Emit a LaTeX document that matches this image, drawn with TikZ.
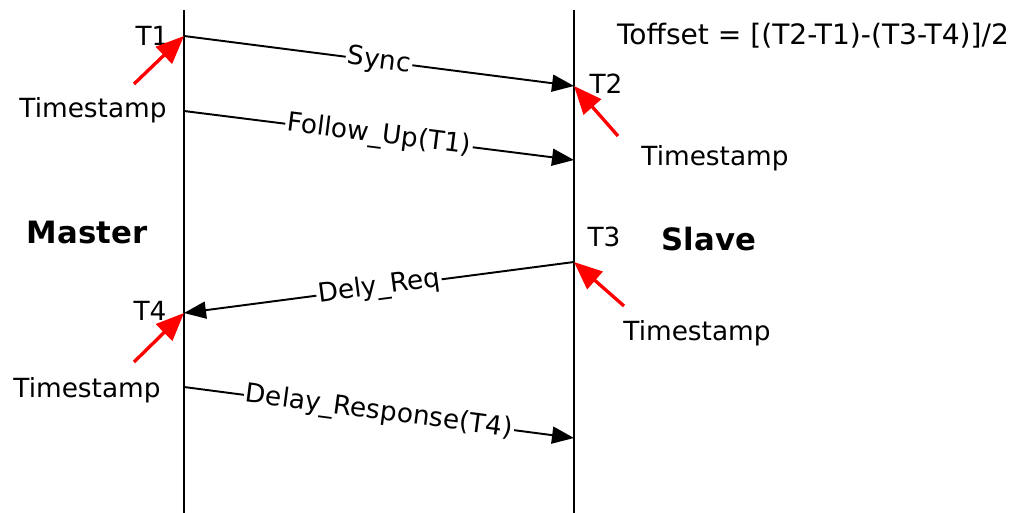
\documentclass[tikz,border=0pt]{standalone}
\usepackage{fontspec}
\setmainfont{DejaVu Sans}
\usetikzlibrary{arrows.meta}

\begin{document}
\begin{tikzpicture}[x=0.02cm, y=-0.02cm,
  every node/.style={font=\fontsize{15}{18}\selectfont},
  lifeline/.style={line width=1.1pt},
  msg/.style={line width=1.1pt, -{Triangle[length=0.44cm, width=0.34cm]}},
  stamp/.style={red, line width=1.9pt, -{Triangle[length=0.56cm, width=0.46cm]}},
  msglabel/.style={midway, sloped, fill=white, inner sep=1pt},
  role/.style={font=\fontsize{17.5}{20}\selectfont\bfseries}]
  \useasboundingbox (0,0) rectangle (1030,513);
  % lifelines
  \coordinate (mtop) at (184,10);
  \coordinate (mbot) at (184,513);
  \coordinate (stop) at (574,10);
  \coordinate (sbot) at (574,513);
  \draw[lifeline] (mtop) -- (mbot);
  \draw[lifeline] (stop) -- (sbot);
  % message end points
  \coordinate (t1) at (184,36);
  \coordinate (t2) at (574,86);
  \coordinate (fua) at (184,111);
  \coordinate (fub) at (574,160);
  \coordinate (t3) at (574,262);
  \coordinate (t4) at (184,313);
  \coordinate (dra) at (184,387);
  \coordinate (drb) at (574,438);
  % messages
  \draw[msg] (t1) -- (t2) node[msglabel]{Sync};
  \draw[msg] (fua) -- (fub) node[msglabel]{Follow\_Up(T1)};
  \draw[msg] (t3) -- (t4) node[msglabel]{Dely\_Req};
  \draw[msg] (dra) -- (drb) node[msglabel]{Delay\_Response(T4)};
  % time labels
  \node (lt1) at (152,36) {T1};
  \node (lt2) at (606,84) {T2};
  \node (lt3) at (604,237) {T3};
  \node (lt4) at (150,311) {T4};
  % timestamps
  \node (ts1) at (93,110) {Timestamp};
  \node (ts2) at (715,158) {Timestamp};
  \node (ts3) at (697,333) {Timestamp};
  \node (ts4) at (87,390) {Timestamp};
  \coordinate (ts1tail) at (134,84);
  \coordinate (ts2tail) at (618,136);
  \coordinate (ts3tail) at (624,306);
  \coordinate (ts4tail) at (134,362);
  \draw[stamp] (ts1tail) -- (t1);
  \draw[stamp] (ts2tail) -- (t2);
  \draw[stamp] (ts3tail) -- (t3);
  \draw[stamp] (ts4tail) -- (t4);
  % roles and formula
  \node[role] (master) at (87,233) {Master};
  \node[role] (slave) at (709,239) {Slave};
  \node[font=\fontsize{16}{19}\selectfont] (formula) at (813,36) {Toffset = [(T2-T1)-(T3-T4)]/2};
\end{tikzpicture}
\end{document}
